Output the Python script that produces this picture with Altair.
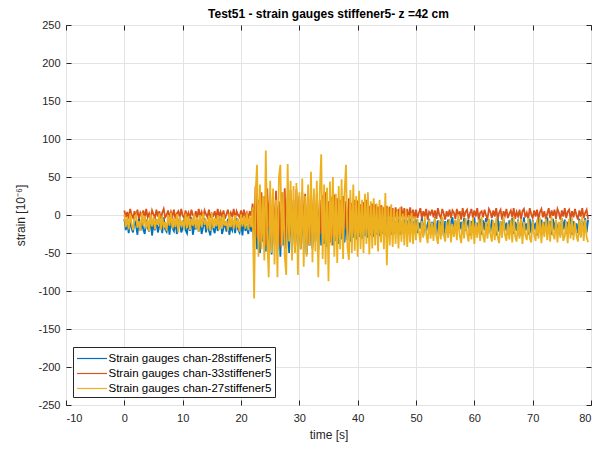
import altair as alt
import pandas as pd

series_names = [
    "Strain gauges chan-28stiffener5",
    "Strain gauges chan-33stiffener5",
    "Strain gauges chan-27stiffener5",
]
series_colors = ["#0072BD", "#D95319", "#EDB120"]
sample_step = 0.25  # seconds between listed samples

chan28 = [
    # 0 - 21.75 s
    -5, -20, -10, -24, -4, -18, -23, -7, -13, -26, -3, -21, -9, -19, -25, -6, -16, -22, -4, -27, -11, -20,
    -6, -23, -15, -8, -24, -3, -19, -22, -10, -26, -5, -17, -21, -7, -25, -12, -4, -23, -18, -6, -20, -24,
    -9, -21, -3, -26, -14, -19, -5, -22, -8, -25, -16, -4, -23, -11, -20, -27, -6, -18, -24, -7, -21, -13,
    -3, -25, -17, -9, -22, -5, -26, -15, -20, -8, -24, -4, -19, -23, -10, -27, -6, -21, -14, -25, -7, -22,
    # 22 - 49.75 s
    -5, -40, 10, -45, 5, -50, 15, -35, 0, -48, 12, -42, -2, -52, 8, -38,
    14, -46, 3, -55, 10, -40, 18, -44, 2, -50, 9, -36, 12, -48, 5, -42,
    -1, -45, 11, -38, 6, -52, 13, -40, 0, -44, 8, -35, 4, -46, -3, -40,
    7, -38, 2, -42, -4, -36, 5, -40, -2, -34, 3, -38, -5, -32, 0, -36,
    -4, -33, -1, -35, -6, -30, -2, -32, -7, -29, -3, -31, -5, -28, -4, -30,
    -6, -27, -5, -29, -7, -26, -4, -28, -8, -25, -6, -27, -5, -24, -7, -26,
    -6, -25, -8, -23, -5, -26, -9, -24, -6, -22, -7, -25, -5, -23, -8, -24,
    # 50 - 79.5 s
    -6, -24, -10, -18, -4, -27, -8, -21, -12, -5, -25, -9, -19, -3, -26, -7, -22, -11, -4, -28, -8, -20, -6, -24,
    -10, -3, -23, -7, -26, -5, -19, -9, -25, -4, -21, -12, -6, -27, -8, -18, -3, -24, -10, -22, -5, -26, -7, -20,
    -4, -25, -9, -23, -6, -19, -11, -27, -3, -22, -8, -24, -5, -20, -10, -26, -7, -18, -4, -25, -9, -21, -6, -28,
    -8, -23, -3, -20, -11, -26, -5, -24, -7, -19, -10, -27, -4, -22, -6, -25, -9, -21, -3, -24, -8, -26, -5, -20,
    -7, -23, -10, -27, -4, -19, -6, -25, -9, -22, -3, -26, -8, -20, -11, -24, -5, -28, -7, -21, -4, -23, -6,
]
chan33 = [
    # 0 - 21.75 s
    6, -3, 4, -5, 8, 0, -4, 5, -2, 7, -5, 3, -1, 6, -4, 8, -3, 2, -5, 6, 1, -4,
    7, -2, 5, -5, 3, 8, -3, 0, 6, -4, 4, -2, 7, -5, 2, 5, -3, 8, -1, -4, 6, -2,
    3, -5, 7, 0, -3, 5, -4, 8, -2, 4, -5, 6, 1, -3, 7, -4, 2, -1, 5, -5, 8, -2,
    4, -3, 6, -5, 1, 7, -4, 3, -2, 8, -5, 5, 0, -3, 6, -4, 7, -2, 3, -5, 5, -1,
    # 22 - 49.75 s
    15, -25, 38, -30, 20, -35, 30, -20, 25, -40, 35, -15, 28, -38, 22, -30,
    32, -25, 18, -42, 30, -20, 35, -33, 26, -28, 33, -45, 20, -22, 34, -30,
    25, -38, 30, -18, 28, -35, 22, -40, 33, -26, 24, -30, 29, -36, 20, -25,
    26, -32, 30, -22, 18, -35, 24, -28, 27, -20, 22, -30, 20, -24, 25, -18,
    18, -26, 22, -20, 16, -22, 20, -15, 19, -24, 14, -18, 17, -15, 20, -12,
    12, -16, 15, -10, 14, -14, 11, -12, 13, -8, 10, -11, 12, -9, 11, -7,
    9, -10, 10, -6, 8, -8, 11, -5, 9, -7, 8, -6, 10, -5, 7, -6,
    # 50 - 79.5 s
    7, -4, 3, 9, -5, 5, -2, 8, -6, 4, 1, 7, -3, 6, -5, 9, 0, -4, 8, 2, -6, 5, -2, 7,
    -4, 6, 3, -5, 8, -1, 5, -6, 9, -3, 4, 7, -5, 2, 8, -4, 6, -2, 9, -6, 3, 5, -3, 7,
    0, -5, 8, 4, -4, 6, -2, 9, -5, 3, 7, -6, 5, -1, 8, -4, 2, 6, -3, 9, -5, 4, -2, 7,
    -6, 5, 8, -3, 3, -5, 9, 1, -4, 6, -2, 7, -6, 4, 8, -3, 5, -5, 2, 9, -4, 6, -1, 7,
    -5, 8, 3, -6, 6, -2, 9, -4, 4, 7, -5, 5, -3, 8, 0, -6, 6, -2, 9, -4, 3, 7, -5,
]
chan27 = [
    # 0 - 21.75 s
    1, -16, -3, -19, 2, -12, -20, -4, 0, -17, -8, -21, 3, -14, -1, -18, -6, -22, 1, -15, -2, -19,
    -5, -13, 2, -20, -1, -17, -9, -21, 0, -14, 3, -18, -4, -16, 1, -23, -2, -15, -7, -19, 2, -17,
    -1, -20, -5, -14, 1, -18, -3, -22, 0, -16, 2, -13, -6, -19, -1, -21, 3, -17, -4, -15, 0, -20,
    -2, -18, 1, -14, -8, -21, 2, -16, -3, -19, 0, -17, -5, -22, 1, -15, -2, -18, 3, -20, -1, -16,
    # 22 - 49.75 s
    10, -110, 30, 66, -55, 40, -45, 25, -60, 85, -30, -82, 45, -50, 35, -65,
    20, -82, 50, 66, -40, 30, -55, -79, 67, -35, 45, -60, 38, -50, 42, -79,
    30, -45, 48, -68, 25, -55, 40, -40, 57, -62, 35, -48, 45, -82, 30, 80,
    -58, 40, -65, 36, -87, 44, -40, 50, -55, 28, -63, 38, -45, 47, -58, 30,
    66, -42, -59, 33, -50, 40, -47, 25, -55, 32, -45, 20, -50, 28, -38, 30,
    -52, 18, -44, 22, -40, 15, -48, 20, -36, 12, -45, 29, -66, 10, -40, 14,
    -42, 8, -38, 5, -44, 10, -35, 2, -40, 6, -42, 0, -36, 3, -38, -2,
    # 50 - 79.5 s
    -33, -5, -22, -36, -8, -30, -3, -25, -37, -6, -31, -10, -34, -4, -28, -38, -7, -32, -2, -26, -35, -9, -30, -5,
    -36, -12, -29, -6, -33, 1, -27, -37, -8, -31, -4, -24, -35, -7, -32, -3, -38, -10, -30, -6, -34, -2, -27, -36,
    -9, -31, -5, -25, -35, -7, -33, -4, -29, -37, -8, -30, -3, -26, -34, -11, -32, -6, -36, -2, -28, -35, -7, -31,
    -5, -38, -9, -27, -33, -4, -30, -36, -8, -25, -34, -6, -31, -3, -37, -10, -29, -5, -33, -7, -35, -2, -26, -32,
    -6, -36, -9, -30, -4, -34, -28, -8, -37, -5, -31, -3, -33, -10, -27, -35, -7, -30, -2, -34, -6, -29, -36,
]

x_ticks = list(range(-10, 81, 10))
y_ticks = list(range(-250, 251, 50))

rows = []
for name, vals in zip(series_names, [chan28, chan33, chan27]):
    for i, v in enumerate(vals):
        rows.append({"t": i * sample_step, "strain": v, "series": name})
df = pd.DataFrame(rows)

FONT = "Liberation Sans"
plain_label = "'' + datum.value"
TICK_LEN = 5

x_scale = alt.Scale(domain=[-10, 80], nice=False, zero=False)
y_scale = alt.Scale(domain=[-250, 250], nice=False)

# main axes: labels, titles, grid
x_main = alt.Axis(values=x_ticks, title="time [s]", titleFontSize=12, titlePadding=6,
                  labelPadding=7, labelExpr=plain_label, grid=True, ticks=False, orient="bottom")
y_main = alt.Axis(values=y_ticks, title="strain [10\u207b\u2076]", titleFontSize=12,
                  titlePadding=10, labelPadding=6, labelExpr=plain_label, grid=True,
                  ticks=False, orient="left")


def tick_axis(values, orient):
    # MATLAB-style inward tick marks on the box edges
    return alt.Axis(values=values, orient=orient, offset=-TICK_LEN, ticks=True,
                    tickSize=TICK_LEN, tickColor="#262626", tickWidth=1,
                    labels=False, grid=False, domain=False, title=None)


axis_sets = [
    (x_main, y_main),
    (tick_axis(x_ticks, "bottom"), tick_axis(y_ticks, "left")),
    (tick_axis(x_ticks, "top"), tick_axis(y_ticks, "right")),
]

color_enc = alt.Color(
    "series:N",
    scale=alt.Scale(domain=series_names, range=series_colors),
    sort=series_names,
    legend=alt.Legend(
        title=None, orient="none", legendX=7, legendY=322,
        symbolType="M-2,0H2", symbolSize=225, symbolStrokeWidth=1.2,
        symbolOffset=7.5,
        labelFontSize=11.5, labelFont=FONT, labelColor="#000000",
        strokeColor="#262626", fillColor="#ffffff", padding=3,
        rowPadding=1, labelOffset=8, labelLimit=400,
    ),
)

layers = [
    alt.Chart(df)
    .transform_filter(alt.datum.series == name)
    .mark_line(strokeWidth=1.8)
    .encode(
        x=alt.X("t:Q", scale=x_scale, axis=xa),
        y=alt.Y("strain:Q", scale=y_scale, axis=ya),
        color=color_enc,
    )
    for name, (xa, ya) in zip(series_names, axis_sets)
]

chart = (
    alt.layer(*layers)
    .resolve_axis(x="independent", y="independent")
    .properties(
        width=525,
        height=380,
        title=alt.TitleParams(
            "Test51 - strain gauges stiffener5- z =42 cm",
            fontSize=12, fontWeight="bold", font=FONT, color="#000000", offset=-2,
        ),
        autosize=alt.AutoSizeParams(type="none"),
        padding={"left": 58, "top": 17, "right": 5, "bottom": 40},
    )
    .configure_view(stroke="#262626", strokeWidth=1)
    .configure_axis(
        domain=False, gridColor="#e3e3e3", gridWidth=1,
        labelFont=FONT, labelFontSize=11, labelColor="#262626",
        titleFont=FONT, titleColor="#262626", titleFontWeight="normal",
    )
)

chart.save("out.html", embed_options={"renderer": "svg", "actions": False})
